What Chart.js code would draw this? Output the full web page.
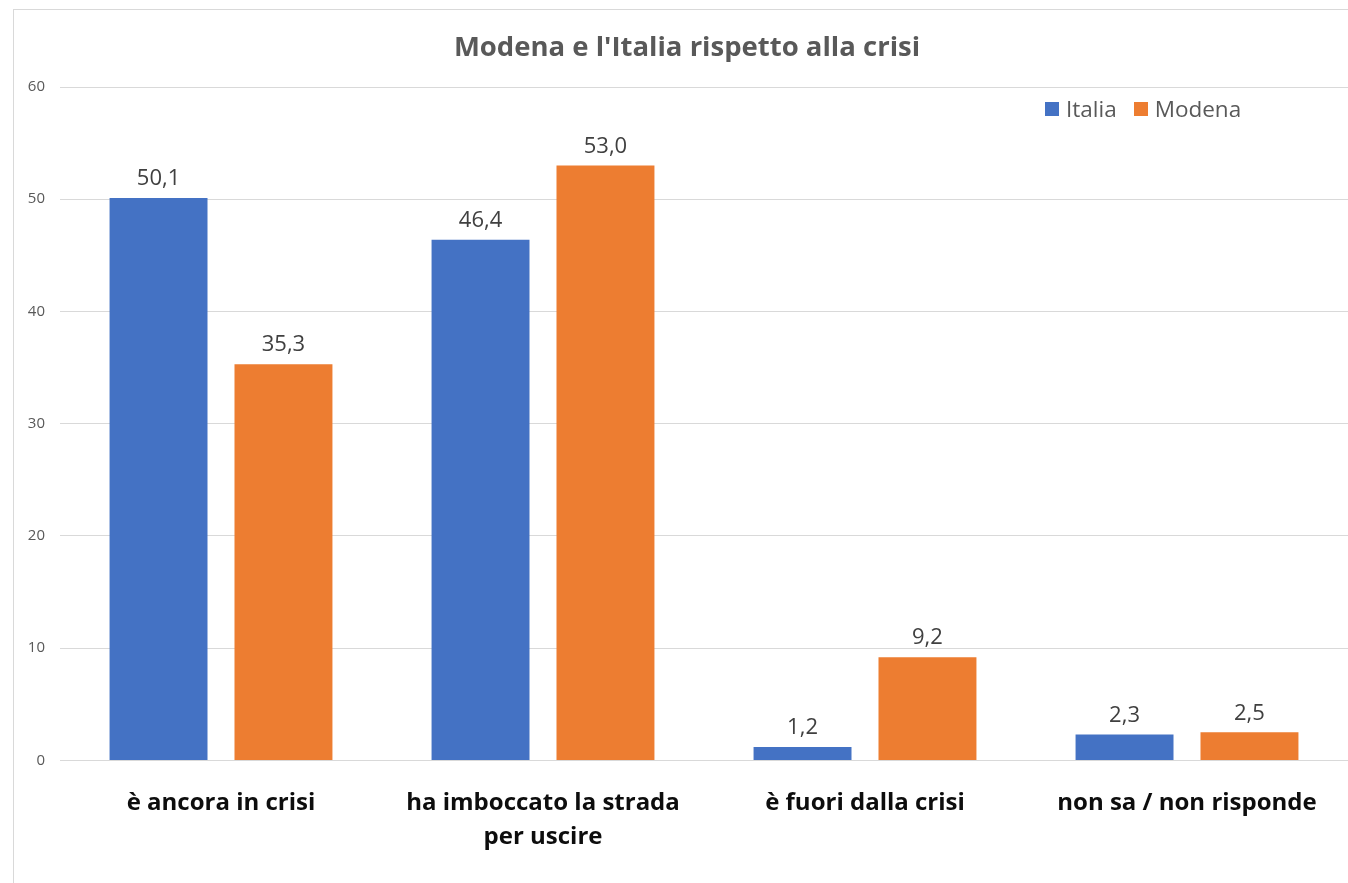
<!DOCTYPE html>
<html>
<head>
<meta charset="utf-8">
<script src="https://cdn.jsdelivr.net/npm/chart.js@4/dist/chart.umd.min.js"></script>
<style>
  html, body { margin:0; padding:0; background:#fff; overflow:hidden; width:1348px; height:883px; }
  #frame { position:absolute; left:13px; top:9px; width:1400px; height:900px; border:1.5px solid #d9d9d9; box-sizing:border-box; }
  #wrap { position:absolute; left:0; top:0; width:1348px; height:883px; }
  #legend { position:absolute; left:1045px; top:93px; display:flex; align-items:center; font-family:"Open Sans", sans-serif; font-size:22.5px; color:#595959; }
  #legend .it { display:flex; align-items:center; margin-right:17px; }
  #legend .sw { width:14px; height:14px; margin-right:7px; }
</style>
</head>
<body>
<div id="frame"></div>
<div id="wrap"><canvas id="c"></canvas></div>
<div id="legend"></div>
<script>
// Modena vs Italia — percentuali
const categories = [
  'è ancora in crisi',
  ['ha imboccato la strada', 'per uscire'],
  'è fuori dalla crisi',
  'non sa / non risponde'
];
const seriesNames = ['Italia', 'Modena'];
const italia = [50.1, 46.4, 1.2, 2.3];
const modena = [35.3, 53.0, 9.2, 2.5];
const yTicks = [0, 10, 20, 30, 40, 50, 60];

const COLORS = ['#4472C4', '#ED7D31'];

// html legend
g = id => document.getElementById(id);
g('legend').innerHTML = seriesNames.map((n, i) => `
  <div class="it"><span class="sw" style="background:${COLORS[i]}"></span><span>${n}</span></div>
`).join('');

// value labels above bars, comma decimal
const valueLabels = {
  id: 'valueLabels',
  afterDatasetsDraw(chart) {
    const ctx = chart.ctx;
    ctx.save();
    ctx.font = '22px "Open Sans", sans-serif';
    ctx.fillStyle = '#404040';
    ctx.textAlign = 'center';
    ctx.textBaseline = 'bottom';
    chart.data.datasets.forEach((ds, di) => {
      chart.getDatasetMeta(di).data.forEach((bar, i) => {
        ctx.fillText(ds.data[i].toFixed(1).replace('.', ','), bar.x, bar.y - 8);
      });
    });
    ctx.restore();
  }
};

new Chart(g('c'), {
  type: 'bar',
  data: {
    labels: categories,
    datasets: [
      { label: seriesNames[0], data: italia, backgroundColor: COLORS[0] },
      { label: seriesNames[1], data: modena, backgroundColor: COLORS[1] }
    ]
  },
  options: {
    responsive: true,
    maintainAspectRatio: false,
    animation: false,
    categoryPercentage: 0.776,
    barPercentage: 0.784,
    layout: { padding: { top: 0, right: 0, bottom: 11, left: 26 } },
    plugins: {
      legend: { display: false },
      tooltip: { enabled: false },
      title: {
        display: true,
        text: "Modena e l'Italia rispetto alla crisi",
        color: '#595959',
        font: { family: '"Open Sans", sans-serif', size: 27.5, weight: 'bold' },
        padding: { top: 32, bottom: 22 }
      }
    },
    scales: {
      x: {
        grid: { display: false },
        border: { display: false },
        ticks: {
          color: '#0d0d0d',
          padding: 17,
          font: { family: '"Open Sans", sans-serif', size: 24, weight: 'bold', lineHeight: 1.45 },
          maxRotation: 0
        }
      },
      y: {
        min: 0,
        max: 60,
        afterFit(scale) { scale.width = 34; },
        afterBuildTicks(scale) { scale.ticks = yTicks.map(v => ({ value: v })); },
        grid: { color: '#d9d9d9', drawTicks: false },
        border: { display: false },
        ticks: {
          color: '#595959',
          padding: 15,
          font: { family: '"Open Sans", sans-serif', size: 15 }
        }
      }
    }
  },
  plugins: [valueLabels]
});
</script>
</body>
</html>
